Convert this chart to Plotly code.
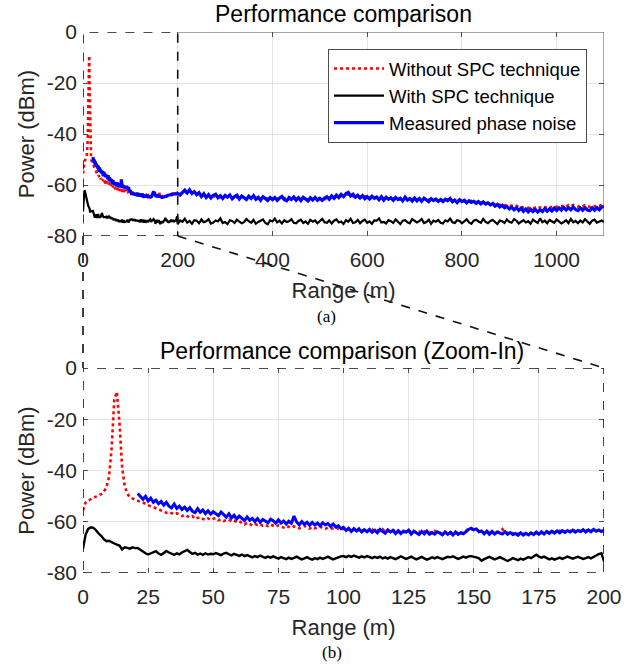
import plotly.graph_objects as go

# ---------------- data ----------------
range_fine = list(range(0, 201))            # 0..200 m, 1 m step
range_coarse = list(range(205, 1101, 5))    # 205..1100 m, 5 m step
blue_start = 21                              # measured phase noise starts at 21 m

red_fine = [
    -55.5, -52.5, -51.8, -51.0, -50.5, -50.2, -49.8, -49.2, -48.3, -46.5, -42.5,
    -31.0, -12.5, -9.3, -21.5, -38.5, -46.0, -49.0, -50.5, -51.0, -51.5,
    -51.8, -52.2, -52.5, -53.0, -53.8, -54.0, -54.3, -54.8, -55.3, -55.6,
    -55.9, -56.5, -56.2, -56.8, -57.1, -56.7, -57.4, -57.8, -57.3, -57.9,
    -58.3, -57.8, -58.9, -58.5, -58.2, -58.9, -59.3, -58.7, -59.3, -58.8,
    -58.6, -59.4, -59.1, -59.7, -59.3, -59.1, -59.9, -59.6, -60.2, -59.8,
    -60.5, -61.1, -60.4, -60.9, -61.4, -60.8, -61.3, -61.0, -61.6, -61.2,
    -61.7, -61.1, -61.6, -62.0, -61.4, -61.9, -62.3, -61.6, -62.1, -62.4,
    -61.8, -62.2, -62.6, -62.0, -61.6, -62.3, -62.7, -62.1, -62.6, -62.2,
    -61.9, -62.4, -62.8, -62.3, -62.7, -62.5, -62.1, -62.8, -63.1, -62.7,
    -63.2, -62.8, -63.5, -63.0, -63.7, -62.6, -63.5, -63.1, -63.9, -63.4,
    -63.0, -63.8, -63.3, -63.6, -62.9, -63.9, -63.4, -63.9, -63.2, -63.7,
    -64.0, -63.5, -64.1, -63.7, -63.3, -64.2, -63.6, -64.3, -63.9, -64.4,
    -63.7, -64.2, -64.0, -64.5, -63.6, -64.4, -64.2, -64.8, -63.9, -64.4,
    -64.6, -64.0, -64.5, -64.2, -64.7, -63.9, -63.5, -62.9, -63.0, -63.2,
    -62.8, -63.8, -63.7, -64.5, -63.6, -64.2, -64.4, -64.3, -63.7, -64.3,
    -62.9, -64.4, -64.3, -64.6, -64.4, -64.6, -64.7, -64.5, -64.8, -64.8,
    -64.6, -64.7, -64.5, -64.6, -64.4, -64.5, -64.3, -64.3, -64.0, -63.9,
    -64.1, -64.0, -63.5, -64.2, -63.8, -63.7, -63.9, -62.8, -63.8, -63.7,
    -63.7, -63.6, -63.6, -63.0, -63.5, -63.5, -63.6, -63.3, -63.4, -63.3,
]
red_coarse = [
    -63.9, -63.3, -62.8, -62.5, -62.6, -63.2, -63.1, -63.5, -64.0, -63.9,
    -64.0, -64.1, -64.3, -64.5, -64.6, -64.2, -64.3, -64.8, -64.8, -64.4,
    -64.5, -64.7, -64.9, -64.6, -64.9, -65.1, -64.7, -65.0, -65.2, -64.8,
    -64.9, -65.1, -65.2, -65.3, -65.3, -65.0, -65.2, -65.4, -65.5, -65.6,
    -65.4, -65.3, -65.3, -65.5, -65.1, -65.1, -65.6, -65.6, -65.3, -65.3,
    -65.5, -65.5, -65.1, -65.2, -65.8, -65.6, -65.6, -65.4, -65.4, -65.3,
    -65.6, -65.5, -65.5, -64.9, -64.7, -65.0, -64.5, -64.3, -64.3, -64.1,
    -64.1, -63.7, -63.8, -64.4, -64.6, -64.6, -64.8, -64.8, -64.4, -64.9,
    -65.1, -65.1, -65.2, -65.0, -65.0, -64.9, -65.3, -65.3, -65.2, -65.4,
    -65.3, -65.5, -65.5, -65.6, -65.2, -65.2, -65.6, -65.7, -65.5, -65.6,
    -65.6, -65.8, -65.8, -65.3, -65.5, -65.5, -65.9, -66.0, -65.7, -65.9,
    -65.8, -66.0, -66.0, -65.6, -65.8, -65.9, -66.3, -66.3, -66.1, -66.2,
    -66.0, -66.4, -66.4, -66.2, -66.6, -66.7, -66.5, -66.9, -67.0, -66.8,
    -67.1, -67.3, -67.3, -67.6, -67.8, -67.8, -68.2, -67.9, -68.0, -68.3,
    -68.1, -68.4, -68.2, -68.6, -68.5, -68.9, -68.7, -69.0, -68.8, -69.1,
    -68.9, -69.2, -68.8, -69.1, -68.7, -69.0, -68.5, -68.8, -68.3, -68.6,
    -68.2, -68.5, -68.0, -68.4, -67.9, -68.3, -67.8, -68.2, -68.5, -68.0,
    -68.4, -67.9, -68.3, -68.6, -68.1, -68.4, -67.9, -68.2, -67.7, -67.5,
]

black_fine = [
    -70.5, -65.0, -62.8, -62.2, -62.4, -63.3, -64.6, -65.5, -66.8, -67.6, -67.4,
    -68.1, -68.5, -68.9, -69.3, -70.8, -70.0, -70.2, -70.5, -70.0, -70.3,
    -70.2, -70.9, -71.8, -72.3, -72.8, -72.4, -71.9, -71.5, -72.4, -72.9,
    -72.2, -71.4, -72.0, -72.6, -72.9, -72.3, -72.7, -72.0, -71.4, -71.0,
    -71.8, -72.5, -72.1, -72.8, -72.4, -72.9, -72.3, -72.8, -72.5, -72.7,
    -72.2, -72.6, -73.0, -72.4, -72.1, -72.7, -73.1, -72.5, -72.9, -73.3,
    -72.8, -73.4, -73.0, -73.6, -73.9, -73.4, -73.8, -73.2, -73.7, -74.1,
    -73.6, -74.0, -73.5, -73.9, -74.4, -73.8, -74.2, -74.6, -74.0, -74.5,
    -74.1, -73.6, -74.2, -74.7, -74.3, -73.8, -74.4, -74.8, -74.2, -74.6,
    -74.0, -74.5, -74.1, -73.6, -74.2, -74.7, -74.3, -73.8, -73.5, -73.4,
    -73.8, -73.3, -73.7, -73.2, -73.6, -74.0, -73.5, -73.9, -73.4, -73.8,
    -74.2, -73.7, -74.1, -73.6, -74.3, -73.9, -74.4, -73.8, -74.2, -74.6,
    -74.1, -73.5, -74.0, -74.5, -74.1, -73.6, -74.2, -74.7, -74.2, -73.7,
    -74.3, -74.8, -74.4, -73.9, -74.3, -73.8, -74.2, -74.6, -74.1, -73.7,
    -73.9, -73.5, -74.0, -74.5, -74.1, -73.6, -74.0, -73.5, -73.4, -73.6,
    -73.9, -74.3, -75.2, -74.6, -74.0, -73.7, -74.2, -74.7, -74.3, -73.8,
    -74.3, -74.9, -75.3, -74.8, -74.2, -74.6, -75.0, -74.4, -74.8, -74.3,
    -73.8, -74.2, -73.5, -72.9, -73.6, -74.0, -73.6, -74.2, -74.7, -74.3,
    -74.8, -74.4, -74.0, -74.5, -74.1, -73.6, -74.0, -74.4, -74.0, -73.7,
    -74.1, -74.5, -74.2, -73.8, -74.3, -73.9, -73.2, -72.6, -72.3, -75.4,
]
black_coarse = [
    -73.9, -74.4, -73.2, -74.8, -74.1, -75.2, -73.8, -74.0, -75.0, -73.5,
    -74.6, -74.2, -73.4, -75.1, -74.7, -73.9, -74.3, -73.1, -74.9, -74.5,
    -75.3, -73.8, -74.1, -74.9, -73.6, -74.4, -75.0, -74.6, -73.3, -74.2,
    -74.8, -73.7, -75.2, -74.5, -74.1, -73.5, -74.9, -75.4, -73.9, -74.3,
    -73.2, -74.7, -74.0, -75.1, -73.8, -74.5, -74.2, -73.4, -74.8, -75.0,
    -74.1, -73.6, -74.9, -74.3, -75.2, -73.7, -74.4, -73.9, -75.0, -74.2,
    -73.3, -74.6, -74.8, -73.9, -75.1, -74.0, -73.5, -74.7, -74.3, -75.3,
    -73.8, -74.4, -73.2, -74.9, -74.6, -73.7, -75.0, -74.1, -73.6, -74.8,
    -74.3, -75.2, -73.9, -74.0, -73.1, -74.7, -74.5, -75.1, -73.8, -74.2,
    -74.9, -73.5, -74.4, -75.3, -74.0, -73.8, -74.6, -75.0, -73.4, -74.1,
    -74.7, -74.2, -73.3, -74.9, -74.5, -73.6, -75.2, -74.0, -74.4, -73.7,
    -74.8, -75.1, -73.9, -74.3, -73.2, -74.6, -74.9, -73.8, -74.1, -75.0,
    -74.4, -73.5, -74.7, -75.2, -74.0, -73.6, -74.3, -74.8, -73.3, -74.5,
    -75.0, -74.1, -73.7, -74.6, -75.3, -73.9, -74.2, -74.9, -73.5, -74.4,
    -74.8, -73.4, -74.0, -75.1, -74.5, -73.8, -74.7, -74.2, -75.2, -73.6,
    -74.3, -74.9, -73.1, -74.6, -74.0, -75.0, -73.7, -74.4, -74.8, -73.5,
    -74.2, -75.1, -74.5, -73.8, -74.9, -73.3, -74.6, -74.1, -75.0, -73.9,
    -74.7, -73.4, -74.3, -75.2, -74.0, -73.6, -74.8, -74.4, -73.9, -74.6,
]

blue_fine = [
    -49.0, -50.3, -51.2, -50.1, -51.9, -50.8, -52.4, -51.6, -52.9, -52.1,
    -53.5, -52.4, -53.9, -54.6, -53.1, -54.8, -53.9, -55.2, -54.3, -55.6,
    -54.5, -55.9, -56.4, -54.9, -56.3, -55.4, -56.8, -55.7, -57.0, -56.1,
    -56.9, -57.6, -56.2, -57.1, -58.2, -56.9, -58.5, -57.5, -58.9, -57.8,
    -58.8, -59.5, -58.1, -59.4, -58.7, -59.9, -58.8, -60.2, -59.1, -59.8,
    -60.4, -59.0, -59.6, -60.6, -59.3, -60.5, -59.7, -60.9, -59.8, -60.6,
    -57.8, -60.1, -61.2, -59.9, -61.0, -60.2, -61.4, -60.3, -61.3, -60.5,
    -61.6, -60.4, -61.2, -60.7, -61.8, -60.9, -62.0, -61.6, -62.7, -62.2,
    -63.4, -62.6, -63.8, -62.7, -63.6, -62.9, -64.0, -63.1, -63.9, -63.0,
    -64.1, -63.3, -64.3, -63.0, -63.9, -64.5, -63.2, -64.0, -63.4, -64.6,
    -63.5, -64.6, -63.6, -64.1, -63.3, -64.8, -63.7, -64.4, -65.0, -63.8,
    -64.7, -63.6, -64.9, -64.2, -64.8, -63.9, -64.5, -65.1, -64.0, -64.9,
    -64.1, -65.2, -64.0, -64.9, -64.3, -64.7, -63.9, -63.0, -62.5, -63.1,
    -62.8, -63.9, -63.6, -64.7, -63.7, -64.9, -63.8, -64.8, -64.0, -64.4,
    -64.8, -63.9, -64.9, -64.2, -65.0, -64.6, -65.3, -64.3, -65.2, -64.5,
    -65.1, -64.3, -65.0, -64.0, -64.9, -63.9, -64.8, -63.8, -64.5, -63.7,
    -64.4, -63.6, -64.3, -63.5, -64.2, -63.4, -64.0, -63.3, -64.1, -63.4,
    -63.8, -63.1, -64.0, -63.2, -63.9, -63.0, -63.7, -63.2, -63.8, -63.3,
]
blue_coarse = [
    -63.9, -62.8, -62.0, -63.1, -61.9, -63.3, -62.6, -63.8, -63.0, -64.5,
    -63.4, -64.9, -63.8, -65.1, -64.0, -63.6, -65.0, -64.2, -65.3, -64.1,
    -64.8, -63.9, -65.4, -64.5, -64.0, -65.5, -64.3, -65.0, -65.7, -64.4,
    -65.3, -64.2, -65.6, -64.8, -66.0, -64.6, -65.2, -66.1, -64.9, -65.7,
    -64.9, -66.0, -65.1, -64.5, -65.8, -66.2, -64.9, -65.6, -64.7, -66.0,
    -65.0, -66.1, -64.8, -65.7, -66.3, -65.0, -65.9, -64.9, -66.0, -65.2,
    -66.0, -65.1, -64.6, -65.6, -64.3, -65.2, -64.0, -64.9, -63.7, -64.6,
    -63.4, -62.9, -64.3, -63.6, -64.8, -64.0, -65.1, -64.2, -65.4, -64.6,
    -65.5, -64.4, -65.2, -64.7, -65.8, -64.6, -65.9, -64.8, -65.6, -65.0,
    -66.0, -64.9, -65.7, -65.2, -66.2, -64.8, -65.9, -65.3, -66.3, -65.1,
    -66.2, -65.3, -66.4, -65.2, -65.8, -66.5, -65.4, -66.1, -65.5, -66.4,
    -65.7, -66.5, -65.6, -66.2, -65.3, -66.6, -65.9, -66.9, -65.8, -66.5,
    -66.0, -67.0, -66.2, -66.8, -66.4, -67.2, -66.5, -67.4, -66.6, -67.5,
    -67.0, -67.8, -67.3, -68.3, -67.6, -68.6, -68.0, -68.9, -68.4, -69.4,
    -68.7, -69.7, -68.9, -70.0, -69.1, -70.3, -69.4, -70.5, -69.5, -70.4,
    -69.6, -70.6, -69.7, -70.4, -69.3, -70.3, -69.4, -70.2, -69.1, -70.0,
    -69.0, -69.9, -68.8, -69.8, -68.9, -69.7, -68.6, -69.6, -70.0, -69.0,
    -69.9, -68.9, -69.8, -70.1, -69.0, -69.9, -68.9, -69.7, -68.7, -68.3,
]

series_names = ["Without SPC technique", "With SPC technique", "Measured phase noise"]
top_xticks = [0, 200, 400, 600, 800, 1000]
zoom_xticks = [0, 25, 50, 75, 100, 125, 150, 175, 200]
yticks = [0, -20, -40, -60, -80]
ytick_text = ["0", "-20", "-40", "-60", "-80"]
full_range = [0, 1100]
zoom_range = [0, 200]
y_range = [-80, 0]

# ---------------- assemble ----------------
x_all = range_fine + range_coarse
red_all = red_fine + red_coarse
black_all = black_fine + black_coarse
x_blue = [r for r in range_fine if r >= blue_start] + range_coarse
blue_all = blue_fine + blue_coarse

W, H = 641, 671
ML, MR, MT, MB = 83, 37, 32, 98
PH = H - MT - MB
def py2paper(py):
    return (H - MB - py) / PH
def px2paper(px):
    return (px - ML) / (W - ML - MR)

top_dom = [py2paper(236), 1.0]
bot_dom = [0.0, py2paper(368)]

FONT = "Liberation Sans, Arial, Helvetica, sans-serif"
TXT = "#262626"
GRID = "#e3e3e3"
FRAME = "#4d4d4d"

fig = go.Figure()
styles_top = [
    dict(color="#ff0000", width=2.6, dash="dot"),
    dict(color="#000000", width=2.2),
    dict(color="#0000ff", width=3.2),
]
styles_zoom = [
    dict(color="#ff0000", width=2.6, dash="dot"),
    dict(color="#000000", width=2.4),
    dict(color="#0000ff", width=3.0),
]
data_sets = [(x_all, red_all), (x_all, black_all), (x_blue, blue_all)]
for (xs, ys), nm, st in zip(data_sets, series_names, styles_top):
    fig.add_trace(go.Scatter(x=xs, y=ys, mode="lines", name=nm, line=st,
                             xaxis="x", yaxis="y", showlegend=True))
for (xs, ys), nm, st in zip(data_sets, series_names, styles_zoom):
    fig.add_trace(go.Scatter(x=xs, y=ys, mode="lines", name=nm, line=st,
                             xaxis="x2", yaxis="y2", showlegend=False))

axis_common = dict(
    showline=False, ticks="inside", ticklen=5, tickcolor=FRAME, tickwidth=1,
    mirror="ticks", showgrid=True, gridcolor=GRID, gridwidth=1, zeroline=False,
    tickfont=dict(family=FONT, size=21, color=TXT),
)
title_font = dict(family=FONT, size=22, color=TXT)

fig.update_layout(
    width=W, height=H,
    margin=dict(l=ML, r=MR, t=MT, b=MB),
    paper_bgcolor="white", plot_bgcolor="white",
    xaxis=dict(domain=[0, 1], anchor="y", range=full_range, tickvals=top_xticks,
               ticklabelstandoff=9,
               title=dict(text="Range (m)", font=title_font, standoff=12),
               **axis_common),
    yaxis=dict(domain=top_dom, anchor="x", range=y_range, tickvals=yticks, ticktext=ytick_text,
               ticklabelstandoff=5,
               title=dict(text="Power (dBm)", font=title_font, standoff=5),
               **axis_common),
    xaxis2=dict(domain=[0, 1], anchor="y2", range=zoom_range, tickvals=zoom_xticks,
                ticklabelstandoff=9,
                title=dict(text="Range (m)", font=title_font, standoff=12),
                **axis_common),
    yaxis2=dict(domain=bot_dom, anchor="x2", range=y_range, tickvals=yticks, ticktext=ytick_text,
                ticklabelstandoff=5,
                title=dict(text="Power (dBm)", font=title_font, standoff=5),
                **axis_common),
    legend=dict(x=px2paper(587), y=py2paper(49), xanchor="right", yanchor="top",
                bgcolor="white", bordercolor=FRAME, borderwidth=1,
                font=dict(family=FONT, size=18.5, color="#000000"),
                itemwidth=50, tracegroupgap=0),
    showlegend=True,
)

shapes = []
# solid frame of the overview plot (outside the zoom window)
zx = zoom_range[1]
shapes += [
    dict(type="line", xref="x", yref="y", x0=zx, x1=full_range[1], y0=y_range[1], y1=y_range[1],
         line=dict(color=FRAME, width=1)),
    dict(type="line", xref="x", yref="y", x0=zx, x1=full_range[1], y0=y_range[0], y1=y_range[0],
         line=dict(color=FRAME, width=1)),
    dict(type="line", xref="x", yref="y", x0=full_range[1], x1=full_range[1], y0=y_range[0], y1=y_range[1],
         line=dict(color=FRAME, width=1)),
]
dash = dict(color="#111111", width=1.6, dash="dash")
# zoom window on the overview plot
shapes.append(dict(type="rect", xref="x", yref="y", x0=zoom_range[0], x1=zoom_range[1],
                   y0=y_range[0], y1=y_range[1], line=dash, layer="above"))
# zoomed plot frame
shapes.append(dict(type="rect", xref="x2", yref="y2", x0=zoom_range[0], x1=zoom_range[1],
                   y0=y_range[0], y1=y_range[1], line=dash, layer="above"))
# connector lines
zx_paper = zoom_range[1] / full_range[1]
shapes.append(dict(type="line", xref="paper", yref="paper", x0=0, x1=0,
                   y0=top_dom[0], y1=bot_dom[1], line=dash))
shapes.append(dict(type="line", xref="paper", yref="paper", x0=zx_paper, x1=1,
                   y0=top_dom[0], y1=bot_dom[1], line=dash))
fig.update_layout(shapes=shapes)

ann = [
    dict(text="Performance comparison", x=px2paper(343), y=py2paper(14),
         font=dict(family=FONT, size=23, color="#000000")),
    dict(text="Performance comparison (Zoom-In)", x=px2paper(342), y=py2paper(351),
         font=dict(family=FONT, size=23, color="#000000")),
    dict(text="(a)", x=px2paper(326), y=py2paper(316),
         font=dict(family="Liberation Serif, Times New Roman, serif", size=17, color="#000000")),
    dict(text="(b)", x=px2paper(332), y=py2paper(652),
         font=dict(family="Liberation Serif, Times New Roman, serif", size=17, color="#000000")),
]
for a in ann:
    a.update(xref="paper", yref="paper", xanchor="center", yanchor="middle", showarrow=False)
fig.update_layout(annotations=ann)

fig.write_html("out.html")
